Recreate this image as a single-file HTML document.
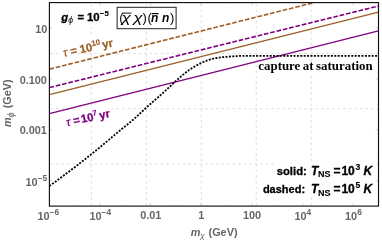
<!DOCTYPE html>
<html><head><meta charset="utf-8"><title>plot</title>
<style>
html,body{margin:0;padding:0;background:#fff;}
body{width:382px;height:243px;overflow:hidden;font-family:"Liberation Sans",sans-serif;}
svg{display:block;will-change:transform;}
text{font-family:"Liberation Sans",sans-serif;font-weight:bold;}
</style></head><body>
<svg width="382" height="243" viewBox="0 0 382 243">
<rect width="382" height="243" fill="#fff"/>
<g stroke="#e0e0e0" stroke-width="1.05" stroke-dasharray="2.7 2.83" fill="none"><line x1="91.35" y1="205.7" x2="91.35" y2="2.6"/><line x1="146.32" y1="205.7" x2="146.32" y2="2.6"/><line x1="201.29" y1="205.7" x2="201.29" y2="2.6"/><line x1="256.26" y1="205.7" x2="256.26" y2="2.6"/><line x1="311.24" y1="205.7" x2="311.24" y2="2.6"/><line x1="50.1" y1="53.48" x2="378.5" y2="53.48"/><line x1="50.1" y1="108.71" x2="378.5" y2="108.71"/><line x1="50.1" y1="163.95" x2="378.5" y2="163.95"/></g>
<clipPath id="c"><rect x="49.4" y="2.6" width="329.1" height="203.5"/></clipPath>
<g clip-path="url(#c)" fill="none">
<line x1="49.4" y1="113.55" x2="378.5" y2="30.97" stroke="#800080" stroke-width="1.3"/>
<line x1="49.4" y1="94.65" x2="378.5" y2="12.17" stroke="#9c5f26" stroke-width="1.3"/>
<line x1="49.4" y1="87.55" x2="378.5" y2="5.98" stroke="#800080" stroke-width="1.6" stroke-dasharray="4.7 1.8"/>
<line x1="49.4" y1="69.15" x2="314.02" y2="2.6" stroke="#9c5f26" stroke-width="1.6" stroke-dasharray="4.7 1.8"/>
<path d="M49.4,186.10 L50.4,185.36 L51.4,184.63 L52.4,183.89 L53.4,183.15 L54.4,182.42 L55.4,181.68 L56.4,180.94 L57.4,180.20 L58.4,179.46 L59.4,178.71 L60.4,177.97 L61.4,177.23 L62.4,176.48 L63.4,175.74 L64.4,174.99 L65.4,174.24 L66.4,173.49 L67.4,172.74 L68.4,171.99 L69.4,171.23 L70.4,170.47 L71.4,169.72 L72.4,168.96 L73.4,168.20 L74.4,167.44 L75.4,166.67 L76.4,165.91 L77.4,165.14 L78.4,164.37 L79.4,163.60 L80.4,162.82 L81.4,162.05 L82.4,161.27 L83.4,160.49 L84.4,159.71 L85.4,158.93 L86.4,158.14 L87.4,157.35 L88.4,156.56 L89.4,155.77 L90.4,154.97 L91.4,154.17 L92.4,153.37 L93.4,152.57 L94.4,151.76 L95.4,150.95 L96.4,150.14 L97.4,149.33 L98.4,148.51 L99.4,147.69 L100.4,146.87 L101.4,146.04 L102.4,145.21 L103.4,144.38 L104.4,143.54 L105.4,142.71 L106.4,141.86 L107.4,141.02 L108.4,140.18 L109.4,139.33 L110.4,138.48 L111.4,137.63 L112.4,136.79 L113.4,135.94 L114.4,135.10 L115.4,134.26 L116.4,133.43 L117.4,132.60 L118.4,131.78 L119.4,130.96 L120.4,130.14 L121.4,129.34 L122.4,128.53 L123.4,127.73 L124.4,126.93 L125.4,126.13 L126.4,125.32 L127.4,124.51 L128.4,123.70 L129.4,122.88 L130.4,122.04 L131.4,121.20 L132.4,120.35 L133.4,119.49 L134.4,118.61 L135.4,117.71 L136.4,116.81 L137.4,115.90 L138.4,114.98 L139.4,114.05 L140.4,113.12 L141.4,112.19 L142.4,111.26 L143.4,110.33 L144.4,109.41 L145.4,108.49 L146.4,107.58 L147.4,106.68 L148.4,105.78 L149.4,104.89 L150.4,104.01 L151.4,103.13 L152.4,102.26 L153.4,101.39 L154.4,100.51 L155.4,99.64 L156.4,98.77 L157.4,97.90 L158.4,97.02 L159.4,96.13 L160.4,95.25 L161.4,94.35 L162.4,93.45 L163.4,92.54 L164.4,91.63 L165.4,90.71 L166.4,89.79 L167.4,88.86 L168.4,87.93 L169.4,87.00 L170.4,86.07 L171.4,85.14 L172.4,84.22 L173.4,83.29 L174.4,82.37 L175.4,81.45 L176.4,80.53 L177.4,79.63 L178.4,78.73 L179.4,77.84 L180.4,76.97 L181.4,76.10 L182.4,75.26 L183.4,74.44 L184.4,73.63 L185.4,72.84 L186.4,72.07 L187.4,71.33 L188.4,70.60 L189.4,69.89 L190.4,69.20 L191.4,68.53 L192.4,67.88 L193.4,67.25 L194.4,66.64 L195.4,66.05 L196.4,65.48 L197.4,64.93 L198.4,64.39 L199.4,63.87 L200.4,63.36 L201.4,62.88 L202.4,62.41 L203.4,61.97 L204.4,61.54 L205.4,61.13 L206.4,60.74 L207.4,60.37 L208.4,60.02 L209.4,59.69 L210.4,59.39 L211.4,59.11 L212.4,58.85 L213.4,58.61 L214.4,58.40 L215.4,58.20 L216.4,58.01 L217.4,57.85 L218.4,57.70 L219.4,57.56 L220.4,57.43 L221.4,57.31 L222.4,57.20 L223.4,57.10 L224.4,57.00 L225.4,56.91 L226.4,56.83 L227.4,56.74 L228.4,56.66 L229.4,56.58 L230.4,56.50 L231.4,56.43 L232.4,56.36 L233.4,56.29 L234.4,56.23 L235.4,56.16 L236.4,56.10 L237.4,56.04 L238.4,55.99 L239.4,55.95 L240.4,55.95 L241.4,55.95 L242.4,55.95 L243.4,55.95 L244.4,55.95 L245.4,55.95 L246.4,55.95 L247.4,55.95 L248.4,55.95 L249.4,55.95 L378.5,55.95" stroke="#000" stroke-width="1.8" stroke-dasharray="2.0 1.4"/>
</g>
<g stroke="#aaa" stroke-width="0.5"><line x1="100.03" y1="206.1" x2="100.03" y2="203.1"/><line x1="100.03" y1="2.6" x2="100.03" y2="5.6"/><line x1="150.66" y1="206.1" x2="150.66" y2="203.1"/><line x1="150.66" y1="2.6" x2="150.66" y2="5.6"/><line x1="201.29" y1="206.1" x2="201.29" y2="203.1"/><line x1="201.29" y1="2.6" x2="201.29" y2="5.6"/><line x1="251.92" y1="206.1" x2="251.92" y2="203.1"/><line x1="251.92" y1="2.6" x2="251.92" y2="5.6"/><line x1="302.55" y1="206.1" x2="302.55" y2="203.1"/><line x1="302.55" y1="2.6" x2="302.55" y2="5.6"/><line x1="353.18" y1="206.1" x2="353.18" y2="203.1"/><line x1="353.18" y1="2.6" x2="353.18" y2="5.6"/><line x1="49.4" y1="28.04" x2="52.4" y2="28.04"/><line x1="378.5" y1="28.04" x2="375.5" y2="28.04"/><line x1="49.4" y1="78.91" x2="52.4" y2="78.91"/><line x1="378.5" y1="78.91" x2="375.5" y2="78.91"/><line x1="49.4" y1="129.79" x2="52.4" y2="129.79"/><line x1="378.5" y1="129.79" x2="375.5" y2="129.79"/><line x1="49.4" y1="180.66" x2="52.4" y2="180.66"/><line x1="378.5" y1="180.66" x2="375.5" y2="180.66"/></g>
<g stroke="#ccc" stroke-width="0.4"><line x1="74.72" y1="206.1" x2="74.72" y2="204.1"/><line x1="74.72" y1="2.6" x2="74.72" y2="4.6"/><line x1="125.35" y1="206.1" x2="125.35" y2="204.1"/><line x1="125.35" y1="2.6" x2="125.35" y2="4.6"/><line x1="175.98" y1="206.1" x2="175.98" y2="204.1"/><line x1="175.98" y1="2.6" x2="175.98" y2="4.6"/><line x1="226.61" y1="206.1" x2="226.61" y2="204.1"/><line x1="226.61" y1="2.6" x2="226.61" y2="4.6"/><line x1="277.24" y1="206.1" x2="277.24" y2="204.1"/><line x1="277.24" y1="2.6" x2="277.24" y2="4.6"/><line x1="327.87" y1="206.1" x2="327.87" y2="204.1"/><line x1="327.87" y1="2.6" x2="327.87" y2="4.6"/><line x1="49.4" y1="53.48" x2="51.4" y2="53.48"/><line x1="378.5" y1="53.48" x2="376.5" y2="53.48"/><line x1="49.4" y1="104.35" x2="51.4" y2="104.35"/><line x1="378.5" y1="104.35" x2="376.5" y2="104.35"/><line x1="49.4" y1="155.22" x2="51.4" y2="155.22"/><line x1="378.5" y1="155.22" x2="376.5" y2="155.22"/></g>
<rect x="49.4" y="2.6" width="329.1" height="203.5" fill="none" stroke="#111" stroke-width="1.15"/>
<g fill="#fff"><rect x="276" y="163.2" width="98.5" height="16.8"/><rect x="261.5" y="181" width="113" height="15.8"/><rect x="257" y="62" width="115.5" height="12.5"/><rect x="59" y="10.5" width="52" height="16.5"/></g>
<rect x="117.1" y="7.3" width="59" height="21.4" fill="#fff" stroke="#222" stroke-width="1"/>
<g stroke="#000"><line x1="122.0" y1="13.1" x2="131.5" y2="13.1" stroke-width="0.9"/><line x1="151.8" y1="13.6" x2="158.6" y2="13.6" stroke-width="1.2"/></g>
<text x="276.7" y="175.0" style="font-size:11.3px;font-weight:bold;font-style:normal;stroke:#000;stroke-width:0.3px" fill="#000">solid:</text>
<text x="311.0" y="175.0" style="font-size:12px;font-weight:bold;font-style:italic;stroke:#000;stroke-width:0.3px" fill="#000">T</text>
<text x="318.0" y="177.3" style="font-size:9px;font-weight:bold;font-style:normal;stroke:#000;stroke-width:0.12px" fill="#000">NS</text>
<text x="333.4" y="175.0" style="font-size:12px;font-weight:bold;font-style:normal;stroke:#000;stroke-width:0.3px" fill="#000">=</text>
<text x="341.4" y="175.0" style="font-size:12px;font-weight:bold;font-style:normal;stroke:#000;stroke-width:0.3px" fill="#000">10</text>
<text x="355.5" y="169.8" style="font-size:8.6px;font-weight:bold;font-style:normal;stroke:#000;stroke-width:0.12px" fill="#000">3</text>
<text x="363.5" y="175.0" style="font-size:12px;font-weight:bold;font-style:italic;stroke:#000;stroke-width:0.3px" fill="#000">K</text>
<text x="262.9" y="193.4" style="font-size:11.0px;font-weight:bold;font-style:normal;stroke:#000;stroke-width:0.3px" fill="#000">dashed:</text>
<text x="311.0" y="193.4" style="font-size:12px;font-weight:bold;font-style:italic;stroke:#000;stroke-width:0.3px" fill="#000">T</text>
<text x="318.0" y="195.70000000000002" style="font-size:9px;font-weight:bold;font-style:normal;stroke:#000;stroke-width:0.12px" fill="#000">NS</text>
<text x="333.4" y="193.4" style="font-size:12px;font-weight:bold;font-style:normal;stroke:#000;stroke-width:0.3px" fill="#000">=</text>
<text x="341.4" y="193.4" style="font-size:12px;font-weight:bold;font-style:normal;stroke:#000;stroke-width:0.3px" fill="#000">10</text>
<text x="355.5" y="188.20000000000002" style="font-size:8.6px;font-weight:bold;font-style:normal;stroke:#000;stroke-width:0.12px" fill="#000">5</text>
<text x="363.5" y="193.4" style="font-size:12px;font-weight:bold;font-style:italic;stroke:#000;stroke-width:0.3px" fill="#000">K</text>
<text x="258.3" y="69.8" style="font-family:'Liberation Serif',serif;font-size:12.9px;font-weight:bold;word-spacing:-0.7px">capture at saturation</text>
<text x="61.2" y="20.7" style="font-size:11.3px;font-weight:bold;font-style:italic;stroke:#000;stroke-width:0.3px" fill="#000">g</text>
<text x="68.2" y="23.0" style="font-size:8.6px;font-weight:normal;font-style:italic" fill="#000">ϕ</text>
<text x="77.4" y="20.7" style="font-size:11.3px;font-weight:bold;font-style:normal;stroke:#000;stroke-width:0.3px" fill="#000">=</text>
<text x="87.0" y="20.7" style="font-size:11.4px;font-weight:bold;font-style:normal;stroke:#000;stroke-width:0.3px" fill="#000">10</text>
<text x="99.8" y="16.2" style="font-size:7.8px;font-weight:bold;font-style:normal;stroke:#000;stroke-width:0.12px" fill="#000">−</text>
<text x="104.5" y="16.2" style="font-size:7.8px;font-weight:bold;font-style:normal;stroke:#000;stroke-width:0.12px" fill="#000">5</text>
<text x="119.2" y="22.3" style="font-size:13px;font-weight:normal;font-style:normal" fill="#000">(</text>
<g transform="translate(121.4,22.0) scale(1.32,1)"><text x="0" y="0" style="font-size:13px;font-weight:normal;font-style:italic" fill="#000">χ</text></g>
<g transform="translate(133.2,22.0) scale(1.32,1)"><text x="0" y="0" style="font-size:13px;font-weight:normal;font-style:italic" fill="#000">χ</text></g>
<text x="142.6" y="22.3" style="font-size:13px;font-weight:normal;font-style:normal" fill="#000">)</text>
<text x="147.6" y="22.3" style="font-size:13px;font-weight:normal;font-style:normal" fill="#000">(</text>
<text x="150.9" y="22.3" style="font-size:12.0px;font-weight:bold;font-style:italic" fill="#000">n</text>
<text x="161.9" y="22.3" style="font-size:12.0px;font-weight:bold;font-style:italic" fill="#000">n</text>
<text x="170.0" y="22.3" style="font-size:13px;font-weight:normal;font-style:normal" fill="#000">)</text>
<g transform="translate(64.1,56.8) rotate(-12)"><rect x="-2.5" y="-14.5" width="53.3" height="14" fill="#fff"/><text x="0" y="0" style="font-size:11.3px;font-weight:normal;font-style:italic;stroke:#9c5f26;stroke-width:0.25px" fill="#9c5f26">τ</text><text x="7.2" y="0" style="font-size:11.3px;font-weight:bold;font-style:normal;stroke:#9c5f26;stroke-width:0.3px" fill="#9c5f26">=</text><text x="16.9" y="0" style="font-size:11.3px;font-weight:bold;font-style:normal;stroke:#9c5f26;stroke-width:0.3px" fill="#9c5f26">10</text><text x="29.6" y="-4.6" style="font-size:7.8px;font-weight:bold;font-style:normal;stroke:#9c5f26;stroke-width:0.12px" fill="#9c5f26">10</text><text x="39.8" y="0" style="font-size:11.3px;font-weight:bold;font-style:normal;stroke:#9c5f26;stroke-width:0.3px" fill="#9c5f26">yr</text></g>
<g transform="translate(66.9,126.2) rotate(-12)"><rect x="-2.5" y="-14.5" width="47.4" height="14" fill="#fff"/><text x="0" y="0" style="font-size:11.3px;font-weight:normal;font-style:italic;stroke:#800080;stroke-width:0.25px" fill="#800080">τ</text><text x="7.2" y="0" style="font-size:11.3px;font-weight:bold;font-style:normal;stroke:#800080;stroke-width:0.3px" fill="#800080">=</text><text x="15.2" y="0" style="font-size:11.3px;font-weight:bold;font-style:normal;stroke:#800080;stroke-width:0.3px" fill="#800080">10</text><text x="27.6" y="-4.6" style="font-size:7.8px;font-weight:bold;font-style:normal;stroke:#800080;stroke-width:0.12px" fill="#800080">7</text><text x="33.9" y="0" style="font-size:11.3px;font-weight:bold;font-style:normal;stroke:#800080;stroke-width:0.3px" fill="#800080">yr</text></g>
<text x="47.4" y="32.5" text-anchor="end" style="font-size:10.9px;stroke:none" fill="#666666">10</text>
<text x="46.9" y="83.5" text-anchor="end" style="font-size:10.9px;stroke:none" fill="#666666">0.100</text>
<text x="46.9" y="134.0" text-anchor="end" style="font-size:10.9px;stroke:none" fill="#666666">0.001</text>
<text x="47.2" y="185.6" text-anchor="end" style="font-size:10.9px;stroke:none" fill="#666666">10<tspan style="font-size:8.4px" dy="-4.6">−5</tspan></text>
<text x="48.3" y="219.8" text-anchor="middle" style="font-size:10.9px;stroke:none" fill="#666666">10<tspan style="font-size:8.4px" dy="-4.6">−6</tspan></text>
<text x="100.3" y="219.8" text-anchor="middle" style="font-size:10.9px;stroke:none" fill="#666666">10<tspan style="font-size:8.4px" dy="-4.6">−4</tspan></text>
<text x="150.8" y="218.7" text-anchor="middle" style="font-size:10.9px;stroke:none" fill="#666666">0.01</text>
<text x="201.2" y="218.7" text-anchor="middle" style="font-size:10.9px;stroke:none" fill="#666666">1</text>
<text x="252" y="218.7" text-anchor="middle" style="font-size:10.9px;stroke:none" fill="#666666">100</text>
<text x="302.8" y="219.8" text-anchor="middle" style="font-size:10.9px;stroke:none" fill="#666666">10<tspan style="font-size:8.4px" dy="-4.6">4</tspan></text>
<text x="353.4" y="219.8" text-anchor="middle" style="font-size:10.9px;stroke:none" fill="#666666">10<tspan style="font-size:8.4px" dy="-4.6">6</tspan></text>
<text x="190.8" y="235.7" style="font-size:10.9px;font-weight:bold;font-style:italic" fill="#666666">m</text>
<text x="200.2" y="238.2" style="font-size:8.0px;font-weight:normal;font-style:italic" fill="#666666">χ</text>
<text x="208.5" y="235.7" style="font-size:10.9px;font-weight:bold;font-style:normal" fill="#666666">(GeV)</text>
<g transform="translate(11.0,127.0) rotate(-90)"><text x="0" y="0" style="font-size:10.9px;font-weight:bold;font-style:italic" fill="#666666">m</text><text x="9.6" y="2.6" style="font-size:9.2px;font-weight:normal;font-style:italic" fill="#666666">ϕ</text><text x="18.7" y="0" style="font-size:10.9px;font-weight:bold;font-style:normal" fill="#666666">(GeV)</text></g>
</svg>
</body></html>
